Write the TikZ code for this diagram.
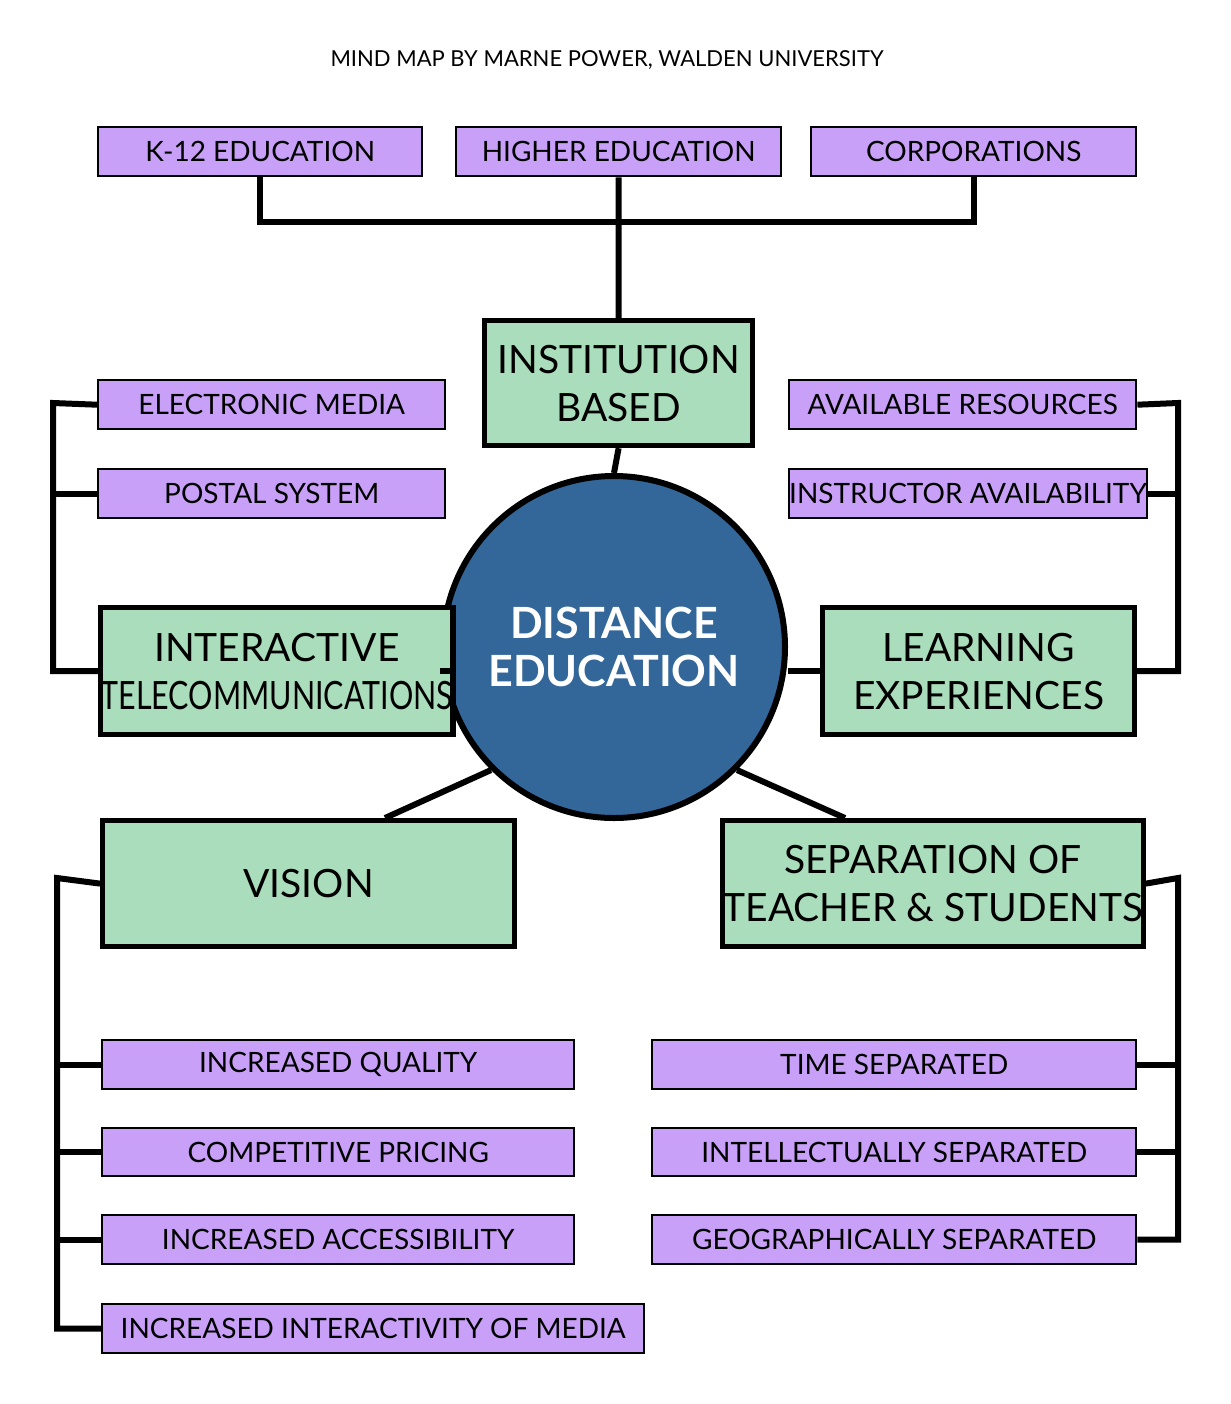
\documentclass[tikz,border=0pt]{standalone}
\usepackage{fontspec}
\setmainfont{Lato}
\usepackage{graphicx}
\definecolor{pur}{HTML}{C9A0F8}
\definecolor{grn}{HTML}{AADDBB}
\definecolor{blu}{HTML}{336699}
\begin{document}
\begin{tikzpicture}[x=0.5pt,y=-0.5pt,
 pbox/.style={draw=black,line width=1.2pt,fill=pur,anchor=north west,inner sep=0pt,font=\fontsize{14}{16}\selectfont,align=center},
 gbox/.style={draw=black,line width=2.6pt,fill=grn,anchor=north west,inner sep=0pt,font=\fontsize{19.5}{24}\selectfont,align=center},
 conn/.style={line width=3pt}]
\useasboundingbox (0,0) rectangle (1231,1404);
\node (title) at (607,60) {\fontsize{11}{13}\selectfont MIND MAP BY MARNE POWER, WALDEN UNIVERSITY};
% line styles first (behind boxes)
\coordinate (top) at (614,222);
\node[pbox,minimum width=162pt,minimum height=24.5pt] (k12) at (97,126) {K-12 EDUCATION};
\node[pbox,minimum width=162.5pt,minimum height=24.5pt] (he) at (455,126) {HIGHER EDUCATION};
\node[pbox,minimum width=162.5pt,minimum height=24.5pt] (corp) at (810,126) {CORPORATIONS};
\node[gbox,minimum width=134pt,minimum height=62.5pt] (inst) at (482,318) {INSTITUTION\\BASED};
\node[circle,draw=black,line width=3pt,fill=blu,minimum size=171pt,inner sep=0pt,text=white,font=\bfseries\fontsize{21.5}{24}\selectfont,align=center] (de) at (614,647) {DISTANCE\\EDUCATION};
\node[pbox,minimum width=173.5pt,minimum height=24.5pt] (em) at (97,379) {ELECTRONIC MEDIA};
\node[pbox,minimum width=173.5pt,minimum height=24.5pt] (ps) at (97,468) {POSTAL SYSTEM};
\node[pbox,minimum width=173.5pt,minimum height=24.5pt] (ar) at (788,379) {AVAILABLE RESOURCES};
\node[pbox,minimum width=173.5pt,minimum height=24.5pt] (ia) at (788,468) {INSTRUCTOR AVAILABILITY};
\node[gbox,minimum width=157.5pt,minimum height=63.5pt] (it) at (98,605) {INTERACTIVE\\\scalebox{0.78}[1]{TELECOMMUNICATIONS}};
\node[gbox,minimum width=156pt,minimum height=63.5pt] (le) at (820,605) {LEARNING\\EXPERIENCES};
\node[gbox,minimum width=206pt,minimum height=63pt] (vi) at (100,818) {VISION};
\node[gbox,minimum width=206.5pt,minimum height=63pt] (sp) at (720,818) {SEPARATION OF\\TEACHER \& STUDENTS};
\node[pbox,minimum width=236pt,minimum height=24.5pt] (iq) at (101,1039) {INCREASED QUALITY};
\node[pbox,minimum width=236pt,minimum height=24pt] (cp) at (101,1127) {COMPETITIVE PRICING};
\node[pbox,minimum width=236pt,minimum height=24.5pt] (iac) at (101,1214) {INCREASED ACCESSIBILITY};
\node[pbox,minimum width=271pt,minimum height=24.5pt] (iim) at (101,1303) {INCREASED INTERACTIVITY OF MEDIA};
\node[pbox,minimum width=242pt,minimum height=24.5pt] (ts) at (651,1039) {TIME SEPARATED};
\node[pbox,minimum width=242pt,minimum height=24pt] (is) at (651,1127) {INTELLECTUALLY SEPARATED};
\node[pbox,minimum width=242pt,minimum height=24.5pt] (gs) at (651,1214) {GEOGRAPHICALLY SEPARATED};
\begin{scope}[on background layer/.style={}]
\end{scope}
% connectors
\coordinate (l1) at (53,403);
\coordinate (r1) at (1178,403);
\coordinate (l2) at (57,878);
\coordinate (r2) at (1178,878);
\coordinate (vt) at (385,818);
\coordinate (st) at (845,818);
\draw[conn] (k12.south) |- (top) -| (corp.south);
\draw[conn] (he.south) -- (inst.north);
\draw[conn] (inst.south) -- (de.north);
\draw[conn] (em.west) -- (l1) |- (it.west);
\draw[conn] (ps.west) -- (ps.west -| l1);
\draw[conn] (ar.east) -- (r1) |- (le.east);
\draw[conn] (ia.east) -- (ia.east -| r1);
\draw[conn] (it.east) -- (it.east -| de.west);
\draw[conn] (le.west) -- (le.west -| de.east);
\draw[conn] (vt) -- (de.225);
\draw[conn] (st) -- (de.-45);
\draw[conn] (vi.west) -- (l2) |- (iim.west);
\draw[conn] (iq.west) -- (iq.west -| l2);
\draw[conn] (cp.west) -- (cp.west -| l2);
\draw[conn] (iac.west) -- (iac.west -| l2);
\draw[conn] (sp.east) -- (r2) |- (gs.east);
\draw[conn] (ts.east) -- (ts.east -| r2);
\draw[conn] (is.east) -- (is.east -| r2);
\end{tikzpicture}
\end{document}
